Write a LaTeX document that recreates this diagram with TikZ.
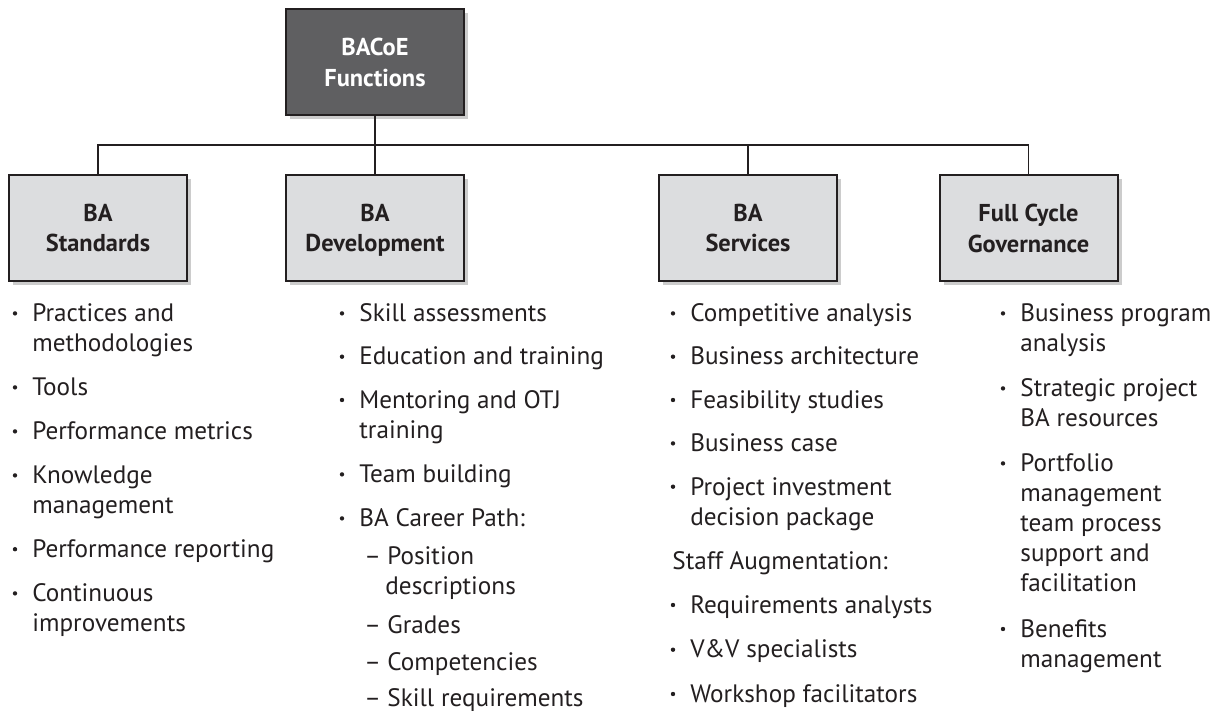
\documentclass[tikz,border=0pt]{standalone}
\usepackage{fontspec}
\setmainfont{PT Sans}
\usetikzlibrary{shadows}
\definecolor{txtc}{HTML}{231F20}
\definecolor{boxfill}{HTML}{DCDDDF}
\definecolor{topfill}{HTML}{5F5F61}
\tikzset{
  hdrbox/.style={draw=txtc, line width=1pt, fill=boxfill, minimum width=89pt, minimum height=53pt,
    inner sep=0pt, align=center, text=txtc, text depth=0pt, font=\fontsize{12.2}{15.3}\selectfont\bfseries,
    drop shadow={shadow xshift=2pt, shadow yshift=-2pt, opacity=0.2, fill=black}},
  topbox/.style={hdrbox, fill=topfill, text=white},
  itemtxt/.style={anchor=base west, inner sep=0pt, text=txtc, font=\fontsize{12.6}{15}\selectfont},
  conn/.style={draw=txtc, line width=0.9pt},
}
\newcommand{\bulletdot}[2]{\fill[txtc] (#1,{#2-8.3}) circle[radius=1.1pt];}
\newcommand{\itemline}[4]{\node[itemtxt] (#1) at (#2,#3) {#4};}
\begin{document}
\begin{tikzpicture}[x=0.5pt,y=-0.5pt]
\useasboundingbox (0,0) rectangle (1212,711);
\fill[white] (0,0) rectangle (1212,711);
% boxes
\node[topbox] (top) at (375,62.5) {BACoE\\Functions};
\node[hdrbox] (s1) at (98,228) {BA\\Standards};
\node[hdrbox] (s2) at (375,228) {BA\\Development};
\node[hdrbox] (s3) at (748,228) {BA\\Services};
\node[hdrbox] (s4) at (1028.5,228) {Full Cycle\\Governance};
% connectors
\coordinate (bus) at (375,145);
\draw[conn] (top.south) -- (s2.north);
\draw[conn] (s1.north) |- (bus);
\draw[conn] (s3.north) |- (bus);
\draw[conn] (s4.north) |- (bus);
% column 1
\bulletdot{15}{321.7}\itemline{a1}{32}{321.7}{Practices and}
\itemline{a1b}{32}{351.7}{methodologies}
\bulletdot{15}{395.7}\itemline{a2}{32}{395.7}{Tools}
\bulletdot{15}{439.7}\itemline{a3}{32}{439.7}{Performance metrics}
\bulletdot{15}{483.7}\itemline{a4}{32}{483.7}{Knowledge}
\itemline{a4b}{32}{513.7}{management}
\bulletdot{15}{557.5}\itemline{a5}{32}{557.5}{Performance reporting}
\bulletdot{15}{601.7}\itemline{a6}{32}{601.7}{Continuous}
\itemline{a6b}{32}{631.7}{improvements}
% column 2
\bulletdot{342}{321.7}\itemline{b1}{359}{321.7}{Skill assessments}
\bulletdot{342}{365}\itemline{b2}{359}{365}{Education and training}
\bulletdot{342}{408.3}\itemline{b3}{359}{408.3}{Mentoring and OTJ}
\itemline{b3b}{359}{438.3}{training}
\bulletdot{342}{482.7}\itemline{b4}{359}{482.7}{Team building}
\bulletdot{342}{526.7}\itemline{b5}{359}{526.7}{BA Career Path:}
\itemline{d1}{364}{565}{–}\itemline{b6}{387}{565}{Position}
\itemline{b6b}{385}{595}{descriptions}
\itemline{d2}{364}{633.3}{–}\itemline{b7}{387}{633.3}{Grades}
\itemline{d3}{364}{670}{–}\itemline{b8}{387}{670}{Competencies}
\itemline{d4}{364}{706.7}{–}\itemline{b9}{387}{706.7}{Skill requirements}
% column 3
\bulletdot{673}{321.7}\itemline{c1}{690}{321.7}{Competitive analysis}
\bulletdot{673}{365}\itemline{c2}{690}{365}{Business architecture}
\bulletdot{673}{408.3}\itemline{c3}{690}{408.3}{Feasibility studies}
\bulletdot{673}{451.7}\itemline{c4}{690}{451.7}{Business case}
\bulletdot{673}{495}\itemline{c5}{690}{495}{Project investment}
\itemline{c5b}{690}{525.7}{decision package}
\itemline{c6}{672}{569.3}{Staff Augmentation:}
\bulletdot{673}{613.3}\itemline{c7}{690}{613.3}{Requirements analysts}
\bulletdot{673}{658}\itemline{c8}{690}{658}{V\&V specialists}
\bulletdot{673}{702.3}\itemline{c9}{690}{702.3}{Workshop facilitators}
% column 4
\bulletdot{1003}{321.7}\itemline{e1}{1020}{321.7}{Business program}
\itemline{e1b}{1020}{351.7}{analysis}
\bulletdot{1003}{396.7}\itemline{e2}{1020}{396.7}{Strategic project}
\itemline{e2b}{1020}{426.7}{BA resources}
\bulletdot{1003}{471.7}\itemline{e3}{1020}{471.7}{Portfolio}
\itemline{e3b}{1020}{501.7}{management}
\itemline{e3c}{1020}{531.7}{team process}
\itemline{e3d}{1020}{561.7}{support and}
\itemline{e3e}{1020}{592}{facilitation}
\bulletdot{1003}{637.3}\itemline{e4}{1020}{637.3}{Benefits}
\itemline{e4b}{1020}{668}{management}
\end{tikzpicture}
\end{document}
